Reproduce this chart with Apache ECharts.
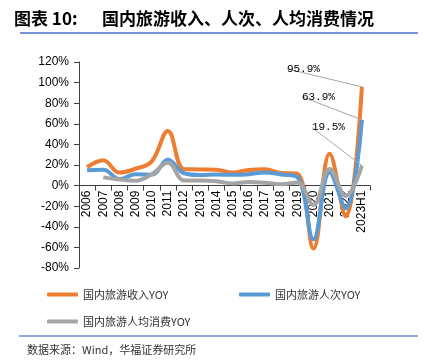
<!DOCTYPE html>
<html>
<head>
<meta charset="utf-8">
<script src="https://cdn.jsdelivr.net/npm/echarts@6/dist/echarts.min.js"></script>
<style>html,body{margin:0;padding:0;background:#fff;}#c{width:424px;height:360px;}</style>
</head>
<body>
<div id="c"></div>
<script>
var categories = ['2006','2007','2008','2009','2010','2011','2012','2013','2014','2015','2016','2017','2018','2019','2020','2021','2022','2023H1'];
var incomeYoY = [17.9, 24.7, 12.6, 16.4, 23.5, 53.1, 16.0, 15.7, 15.4, 12.8, 15.2, 15.9, 12.3, 11.6, -61.1, 31.0, -30.0, 95.9];
var visitsYoY = [15.0, 15.5, 6.3, 11.1, 10.6, 25.0, 12.0, 10.3, 10.7, 10.5, 11.0, 12.8, 10.8, 8.4, -52.1, 12.8, -22.1, 63.9];
var perCapitaYoY = [null, 8.0, 5.9, 4.8, 11.0, 22.2, 5.0, 4.9, 4.2, 2.1, 3.6, 2.8, 1.4, 3.0, -18.8, 16.2, -10.0, 19.5];
var seriesNames = ['国内旅游收入YOY', '国内旅游人次YOY', '国内旅游人均消费YOY'];
var yTicks = {min: -80, max: 120, step: 20};

var chart = echarts.init(document.getElementById('c'), null, {renderer: 'canvas'});
var lastIdx = categories.length - 1;
function buildData(arr) {
  return arr.map(function (v, i) {
    if (v === null) return '-';
    if (i === lastIdx) return {value: v, label: {show: true}, labelLine: {show: true}};
    return v;
  });
}
var labelFont = {fontFamily: 'Liberation Mono', fontSize: 11, color: '#000'};
function mkSeries(name, arr, color, dx, dy) {
  return {
    name: name, type: 'line', smooth: 0.4, data: buildData(arr),
    symbol: 'circle', symbolSize: 0, showSymbol: true,
    lineStyle: {width: 4, color: color}, itemStyle: {color: color},
    label: Object.assign({show: false, position: 'left', distance: 5, formatter: function (p) { return p.value.toFixed(1) + '%'; }}, labelFont),
    labelLine: {show: false, lineStyle: {color: '#A6A6A6', width: 1}},
    labelLayout: {dx: dx, dy: dy, hideOverlap: false},
    z: 2
  };
}
var gridTop = 62, gridBottom = 92, chartH = 360;
var plotH = chartH - gridTop - gridBottom;
var zeroOffset = -plotH * (0 - yTicks.min) / (yTicks.max - yTicks.min);
var lf = {fontFamily: 'Noto Sans CJK SC', fontSize: 11, color: '#333'};
var option = {
  animation: false,
  backgroundColor: '#fff',
  title: {text: '{a|图表 10:}{b|国内旅游收入、人次、人均消费情况}', left: 9, top: 5,
    textStyle: {rich: {
      a: {fontFamily: 'Noto Sans CJK SC', fontSize: 17, fontWeight: 'bold', color: '#000', width: 88},
      b: {fontFamily: 'Noto Sans CJK SC', fontSize: 17, fontWeight: 'bold', color: '#000'}
    }}},
  grid: {left: 79, right: 54, top: gridTop, bottom: gridBottom},
  legend: [
    {data: [seriesNames[0]], left: 47, top: 289, padding: 0, icon: 'roundRect', itemWidth: 31, itemHeight: 4, textStyle: lf},
    {data: [seriesNames[1]], left: 239, top: 289, padding: 0, icon: 'roundRect', itemWidth: 31, itemHeight: 4, textStyle: lf},
    {data: [seriesNames[2]], left: 47, top: 316, padding: 0, icon: 'roundRect', itemWidth: 31, itemHeight: 4, textStyle: lf}
  ],
  xAxis: {
    type: 'category', data: categories, boundaryGap: true,
    offset: zeroOffset,
    axisLine: {onZero: false, lineStyle: {color: '#404040', width: 1}},
    axisTick: {show: true, length: 5, lineStyle: {color: '#404040'}},
    axisLabel: {rotate: 90, interval: 0, margin: 5, fontFamily: 'Liberation Sans', fontSize: 12, color: '#000'}
  },
  yAxis: {
    type: 'value', min: yTicks.min, max: yTicks.max, interval: yTicks.step,
    axisLine: {show: true, lineStyle: {color: '#404040'}},
    axisTick: {show: true, length: 5, lineStyle: {color: '#404040'}},
    splitLine: {show: false},
    axisLabel: {formatter: '{value}%', margin: 10, fontFamily: 'Liberation Sans', fontSize: 12, color: '#000'}
  },
  series: [
    mkSeries(seriesNames[0], incomeYoY, '#ED7D31', -37, -18),
    mkSeries(seriesNames[1], visitsYoY, '#5B9BD5', -22, -23),
    mkSeries(seriesNames[2], perCapitaYoY, '#A5A5A5', -12, -38)
  ],
  graphic: [
    {type: 'line', shape: {x1: 20, y1: 33, x2: 418, y2: 33}, style: {stroke: '#4472C4', lineWidth: 1.5}},
    {type: 'line', shape: {x1: 19, y1: 336, x2: 418, y2: 336}, style: {stroke: '#8EA9DB', lineWidth: 2}},
    {type: 'text', left: 27, top: 344, style: {text: '数据来源：Wind，华福证券研究所', font: '11px "Noto Sans CJK SC"', fill: '#333'}}
  ]
};
chart.setOption(option);
</script>
</body>
</html>
